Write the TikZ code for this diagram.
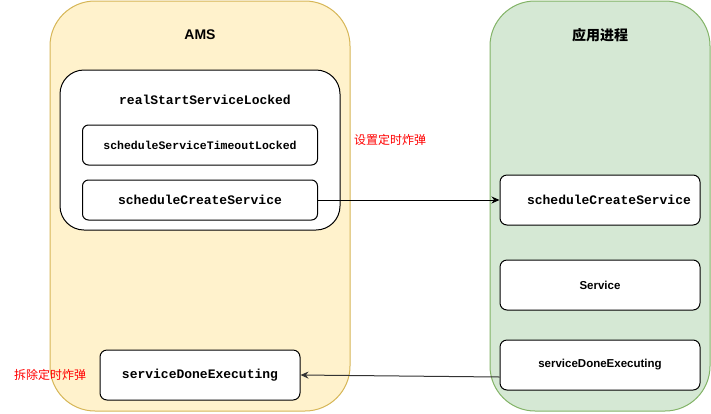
\documentclass[tikz,border=0pt]{standalone}
\usepackage{fontspec}
\setmainfont{Liberation Sans}
\setmonofont{Liberation Mono}
\newfontfamily\cjk{Noto Sans CJK SC}
\usetikzlibrary{positioning,arrows.meta}
\definecolor{amsfill}{HTML}{FFF2CC}
\definecolor{amsline}{HTML}{D6B656}
\definecolor{appfill}{HTML}{D5E8D4}
\definecolor{appline}{HTML}{82B366}
\definecolor{bomb}{HTML}{FF0000}

\tikzset{
  lane/.style={draw, line width=1pt, rounded corners=#1, inner sep=0pt},
  callbox/.style={draw, fill=white, line width=1pt, rounded corners=#1, inner sep=0pt},
  monotxt/.style={font=\ttfamily\bfseries\fontsize{13}{15}\selectfont},
  sanstxt/.style={font=\bfseries\fontsize{11.5}{14}\selectfont},
  flow/.style={-{Stealth[length=8pt,width=7pt]}, line width=1pt},
}

\begin{document}
\begin{tikzpicture}[x=1pt, y=-1pt]
  \useasboundingbox (0,0) rectangle (711,413);
  % lanes
  \node[lane=45pt, fill=amsfill, draw=amsline, minimum width=300pt, minimum height=410pt] (ams) at (200,206) {};
  \node[lane=45pt, fill=appfill, draw=appline, minimum width=220pt, minimum height=410pt] (app) at (600,206) {};
  \node[font=\bfseries\fontsize{14}{16}\selectfont] (amst) at (200,35) {AMS};
  \node[font=\cjk\bfseries\fontsize{14}{16}\selectfont] (appt) at (600,35) {应用进程};

  % AMS side
  \node[callbox=24pt, minimum width=280pt, minimum height=160pt] (rss) at (200,150) {};
  \node[monotxt] (rsst) at (205,100) {realStartServiceLocked};
  \node[callbox=6pt, monotxt, font=\ttfamily\bfseries\fontsize{11.5}{14}\selectfont,
        minimum width=235pt, minimum height=40pt] (sst) at (200,145) {scheduleServiceTimeoutLocked};
  \node[callbox=6pt, monotxt, minimum width=235pt, minimum height=40pt] (scs) at (200,200) {scheduleCreateService};
  \node[callbox=7pt, monotxt, minimum width=200pt, minimum height=50pt] (sde) at (200,375) {serviceDoneExecuting};

  % app side
  \node[callbox=7pt, monotxt, minimum width=200pt, minimum height=50pt] (ascs) at (600,200) {\hspace{18pt}scheduleCreateService};
  \node[callbox=7pt, sanstxt, minimum width=200pt, minimum height=50pt] (asvc) at (600,285) {Service};
  \node[callbox=7pt, sanstxt, minimum width=200pt, minimum height=50pt] (asde) at (600,365) {serviceDoneExecuting};

  % notes
  \node[text=bomb, font=\cjk\fontsize{12}{14}\selectfont] (set) at (390,140) {设置定时炸弹};
  \node[text=bomb, font=\cjk\fontsize{12}{14}\selectfont] (clr) at (50,375) {拆除定时炸弹};

  \draw[flow] (scs.east) -- (ascs.west);
  \draw[flow, draw=black!80] ([yshift=-12pt]asde.west) -- (sde.east);
\end{tikzpicture}
\end{document}
